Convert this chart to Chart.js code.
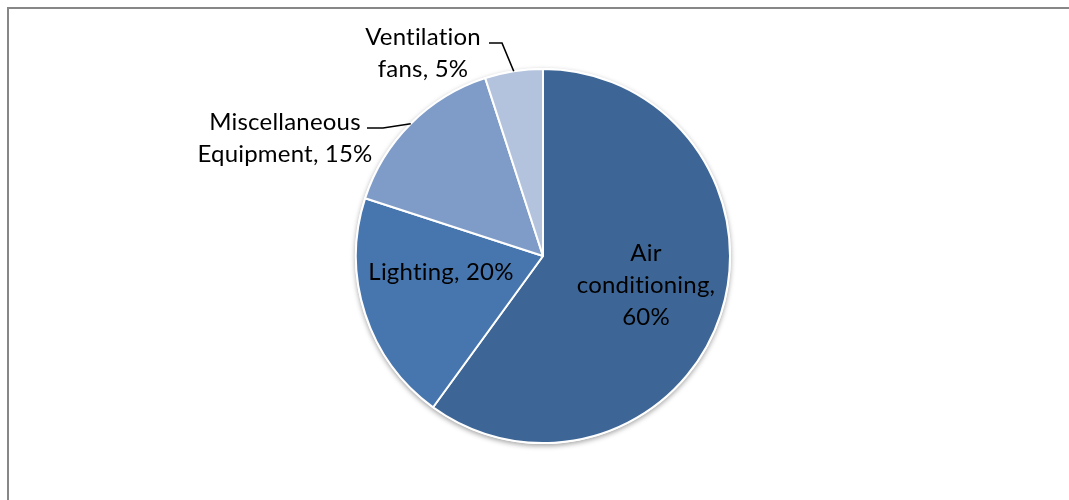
<!DOCTYPE html>
<html>
<head>
<meta charset="utf-8">
<script src="https://cdn.jsdelivr.net/npm/chart.js@4/dist/chart.umd.min.js"></script>
<style>
  html, body { margin: 0; padding: 0; background: #fff; }
  #wrap { position: relative; width: 1069px; height: 500px; overflow: hidden; }
  #frame {
    position: absolute; left: 7px; top: 7px; right: -4px; bottom: -4px;
    border-top: 2px solid #878787; border-left: 2px solid #878787;
  }
  #chart { position: absolute; left: 0; top: 0; }
</style>
</head>
<body>
<div id="wrap">
  <div id="frame"></div>
  <canvas id="chart" width="1069" height="500"></canvas>
</div>
<script>
// -------------------------
// DATA
// -------------------------
const categories = ["Air conditioning", "Lighting", "Miscellaneous Equipment", "Ventilation fans"];
const shares = [60, 20, 15, 5];
const sliceColors = ["#3d6696", "#4776ae", "#7f9cc8", "#b3c3de"];

// label text lines, split like the original
const labelLines = [
  ["Air", "conditioning,", "60%"],
  ["Lighting, 20%"],
  ["Miscellaneous", "Equipment, 15%"],
  ["Ventilation", "fans, 5%"]
];

// -------------------------
// LABEL LAYOUT (offsets from the pie centre / leader geometry)
// -------------------------
const FONT = "24px Lato";
const LINE_H = 32;
const labelLayout = [
  { inside: true, dx: 103, dy: 29 },
  { inside: true, dx: -102, dy: 16 },
  { inside: false, tx: 285, ty: 138, knee: [383, 128], start: [367, 128] },
  { inside: false, tx: 423, ty: 53, knee: [502, 43], start: [489, 43] }
];

// -------------------------
// PLUGINS
// -------------------------
const pieShadow = {
  id: "pieShadow",
  beforeDatasetsDraw(chart) {
    const arc = chart.getDatasetMeta(0).data[0];
    if (!arc) return;
    const ctx = chart.ctx;
    ctx.save();
    ctx.shadowColor = "rgba(0,0,0,0.35)";
    ctx.shadowBlur = 5;
    ctx.shadowOffsetY = 2;
    ctx.fillStyle = "#ffffff";
    ctx.beginPath();
    ctx.arc(arc.x, arc.y, arc.outerRadius + 1, 0, Math.PI * 2);
    ctx.fill();
    ctx.restore();
  }
};

const pieLabels = {
  id: "pieLabels",
  afterDatasetsDraw(chart) {
    const ctx = chart.ctx;
    const arcs = chart.getDatasetMeta(0).data;
    ctx.save();
    ctx.font = FONT;
    // non-zero spacing keeps Lato from joining "ti" into a ligature
    if ("letterSpacing" in ctx) ctx.letterSpacing = "0.2px";
    ctx.fillStyle = "#000000";
    ctx.textAlign = "center";
    ctx.textBaseline = "middle";
    arcs.forEach((arc, i) => {
      const lay = labelLayout[i];
      const lines = labelLines[i];
      let cx, cy;
      if (lay.inside) {
        cx = arc.x + lay.dx;
        cy = arc.y + lay.dy;
      } else {
        cx = lay.tx;
        cy = lay.ty;
        const mid = (arc.startAngle + arc.endAngle) / 2;
        const ex = arc.x + Math.cos(mid) * arc.outerRadius;
        const ey = arc.y + Math.sin(mid) * arc.outerRadius;
        ctx.strokeStyle = "#000000";
        ctx.lineWidth = 1.6;
        ctx.beginPath();
        ctx.moveTo(lay.start[0], lay.start[1]);
        ctx.lineTo(lay.knee[0], lay.knee[1]);
        ctx.lineTo(ex, ey);
        ctx.stroke();
      }
      const top = cy - (lines.length - 1) * LINE_H / 2;
      lines.forEach((t, k) => ctx.fillText(t, cx, top + k * LINE_H));
    });
    ctx.restore();
  }
};

// -------------------------
// CHART
// -------------------------
const ctx = document.getElementById("chart").getContext("2d");
new Chart(ctx, {
  type: "pie",
  data: {
    labels: categories,
    datasets: [{
      data: shares,
      backgroundColor: sliceColors,
      borderColor: "#ffffff",
      borderWidth: 2
    }]
  },
  options: {
    responsive: false,
    animation: false,
    layout: { padding: { left: 355, right: 338, top: 68, bottom: 56 } },
    plugins: {
      legend: { display: false },
      tooltip: { enabled: false }
    }
  },
  plugins: [pieShadow, pieLabels]
});
</script>
</body>
</html>
